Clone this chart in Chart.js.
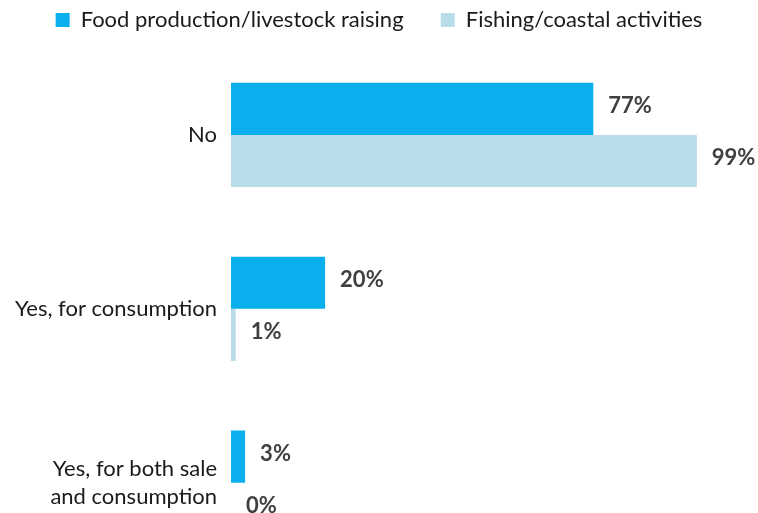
<!DOCTYPE html>
<html>
<head>
<meta charset="utf-8">
<script src="https://cdn.jsdelivr.net/npm/chart.js@4"></script>
<style>
    html, body { margin: 0; padding: 0; background: #fff; overflow: hidden; }
    #zone { position: relative; width: 758px; height: 598px; }
</style>
</head>
<body>
<div id="zone"><canvas id="graphique"></canvas></div>
<script>
// Catégories et valeurs (en %)
const categories = [["No"], ["Yes, for consumption"], ["Yes, for both sale", "and consumption"]];
const nomsSeries = ["Food production/livestock raising", "Fishing/coastal activities"];
const valeursAlimentation = [77, 20, 3];
const valeursPeche = [99, 1, 0];
const couleurs = ["#0ab0ee", "#b9dde8"];

const police = "Lato, 'Open Sans', sans-serif";

// Étiquettes de valeur à droite de chaque barre
const etiquettesValeurs = {
    id: "etiquettesValeurs",
    afterDatasetsDraw(chart) {
        const ctx = chart.ctx;
        ctx.save();
        ctx.font = "bold 22px " + police;
        ctx.fillStyle = "#404040";
        ctx.textAlign = "left";
        ctx.textBaseline = "middle";
        chart.data.datasets.forEach((ds, i) => {
            chart.getDatasetMeta(i).data.forEach((barre, j) => {
                ctx.fillText(ds.data[j] + "%", barre.x + 15, barre.y - 3);
            });
        });
        ctx.restore();
    }
};

// Hauteur fixe de la légende, pour garder l'écart sous la légende
const hauteurLegende = {
    id: "hauteurLegende",
    beforeInit(chart) {
        const legende = chart.legend;
        const fitOrigine = legende.fit;
        legende.fit = function () {
            fitOrigine.call(this);
            this.height = 48;
        };
    }
};

const config = {
    type: "bar",
    data: {
        labels: categories,
        datasets: [
            { label: nomsSeries[0], data: valeursAlimentation, backgroundColor: couleurs[0],
              categoryPercentage: 0.6, barPercentage: 1.0 },
            { label: nomsSeries[1], data: valeursPeche, backgroundColor: couleurs[1],
              categoryPercentage: 0.6, barPercentage: 1.0 }
        ]
    },
    options: {
        indexAxis: "y",
        responsive: true,
        maintainAspectRatio: false,
        animation: false,
        layout: { padding: 0 },
        plugins: {
            legend: {
                position: "top",
                labels: {
                    boxWidth: 14,
                    boxHeight: 14,
                    padding: 9,
                    color: "#1a1a1a",
                    font: { size: 22, family: police },
                    // espace supplémentaire après le premier élément
                    generateLabels(chart) {
                        const items = Chart.defaults.plugins.legend.labels.generateLabels(chart);
                        items[0].text += "     ";
                        return items;
                    }
                }
            },
            tooltip: { enabled: false }
        },
        scales: {
            // place à droite pour les étiquettes de valeur
            x: { min: 0, max: 112, display: false, grid: { display: false } },
            y: {
                grid: { display: false, drawTicks: false },
                border: { display: false },
                ticks: {
                    padding: 14,
                    color: "#1a1a1a",
                    font: { size: 22, family: police, lineHeight: 1.3 }
                },
                afterFit(scale) { scale.width = 231; }
            }
        }
    },
    plugins: [etiquettesValeurs, hauteurLegende]
};

new Chart(document.querySelector("#graphique"), config);
</script>
</body>
</html>
